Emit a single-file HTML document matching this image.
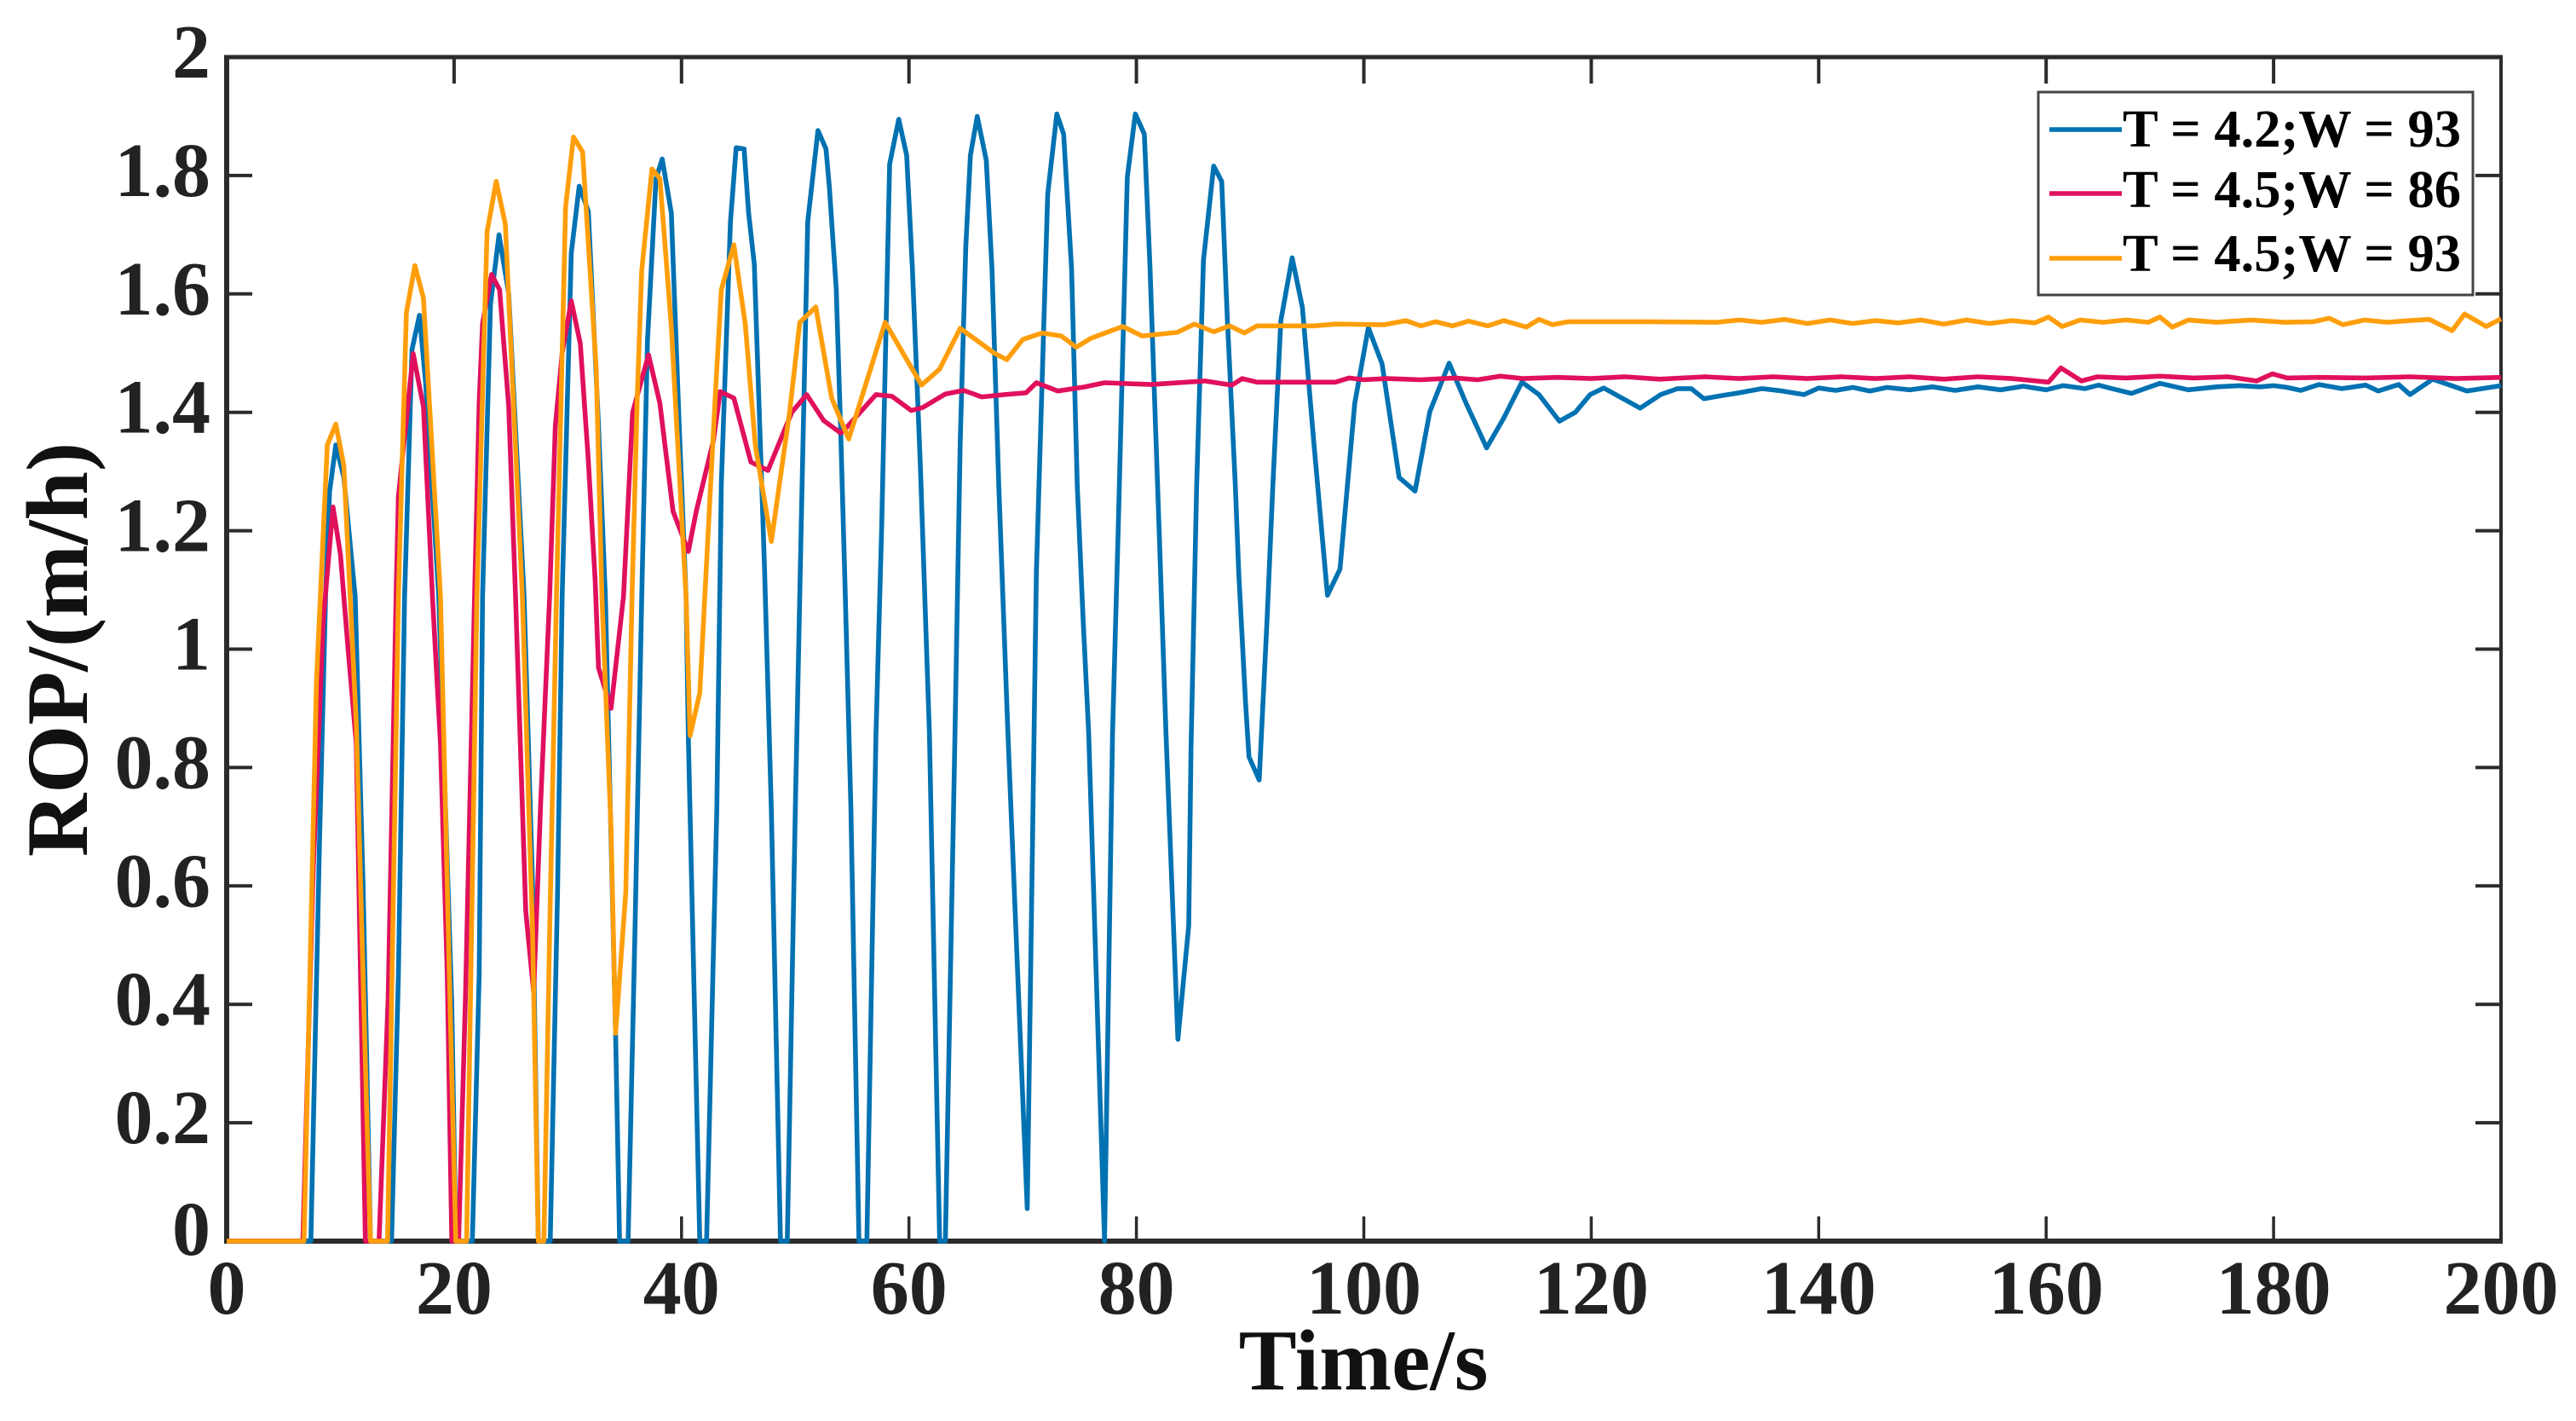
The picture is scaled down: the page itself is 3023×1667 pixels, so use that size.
<!DOCTYPE html>
<html>
<head>
<meta charset="utf-8">
<title>ROP over time</title>
<style>
html,body{margin:0;padding:0;background:#fff;width:3023px;height:1667px;overflow:hidden}
svg{display:block;font-family:"Liberation Serif",serif;font-weight:bold}
</style>
</head>
<body>
<svg id="chart" width="3023" height="1667" viewBox="0 0 3023 1667" xmlns="http://www.w3.org/2000/svg">
  <rect width="3023" height="1667" fill="#fff"/>
  <g id="series"></g>
  <g id="axes"></g>
  <text x="1600" y="1630" font-size="102" text-anchor="middle" fill="#111">Time/s</text>
  <text transform="translate(102 762) rotate(-90)" font-size="103" text-anchor="middle" fill="#111">ROP/(m/h)</text>
  <g>
    <rect x="2392" y="108" width="510" height="238" fill="#fff" stroke="#444" stroke-width="3"/>
    <line x1="2405" x2="2490" y1="152" y2="152" stroke="#0072B2" stroke-width="5.6"/>
    <line x1="2405" x2="2490" y1="227" y2="227" stroke="#E0105C" stroke-width="5.6"/>
    <line x1="2405" x2="2490" y1="303" y2="303" stroke="#FF9E0B" stroke-width="5.6"/>
    <text x="2491" y="172" font-size="62" fill="#000" textLength="397" lengthAdjust="spacingAndGlyphs">T = 4.2;W = 93</text>
    <text x="2491" y="243" font-size="62" fill="#000" textLength="397" lengthAdjust="spacingAndGlyphs">T = 4.5;W = 86</text>
    <text x="2491" y="318" font-size="62" fill="#000" textLength="397" lengthAdjust="spacingAndGlyphs">T = 4.5;W = 93</text>
  </g>
</svg>
<script>
const xTicks = [0,20,40,60,80,100,120,140,160,180,200];
const yTicks = [0,0.2,0.4,0.6,0.8,1,1.2,1.4,1.6,1.8,2];

const blueTime = [0,7.4,8.15,8.7,9.05,9.6,10.3,11.3,12,12.65,14.5,15.1,15.65,16.3,16.95,17.5,18.65,19.8,20.15,21.6,22.2,22.5,23.2,23.95,24.8,26.15,26.9,27.4,28.45,29.1,29.5,30.3,31,31.8,32.7,33.3,34.2,34.55,35.3,35.9,36.5,37,37.75,38.3,39.1,39.8,40.4,40.6,41.6,42.2,43.1,43.5,44.3,44.8,45.5,45.9,46.4,47.3,47.9,48.7,49.3,50,50.5,51.1,52,52.7,53,53.6,54,54.4,54.9,55.6,56.3,57.1,57.6,58.3,59.1,59.8,60.3,61,61.8,62.7,63.2,64.05,64.5,65,65.4,66,66.8,67.3,67.9,68.7,70.4,71.2,72.2,73,73.6,74.3,74.8,75.3,75.8,77.2,77.9,78.4,79.2,79.9,80.7,81.2,82,82.6,83.3,83.65,84.6,84.8,85.3,85.9,86.8,87.5,88,88.7,89,89.6,89.9,90.8,91.5,92,92.7,93.7,94.6,95.6,96.8,97.9,99.2,100.4,101.6,103.1,104.5,105.8,107.5,109,110.8,112.3,113.9,115.4,117.2,118.6,119.9,121.1,124.3,126.1,127.6,128.8,129.9,131.4,133,135,136.8,138.7,140,141.5,143,144.5,146,148,150,152,154,156,158,160,161.5,163.4,164.6,165.8,167.5,170,172.5,175,177,178.8,180,181.2,182.4,184,186,188.1,189.2,191,192,194,197,200];
const blueROP = [0,0,0.665,1.089,1.266,1.345,1.29,1.089,0.6,0,0,0.448,1.089,1.506,1.564,1.45,1.089,0.4,0,0,0.448,1.089,1.583,1.7,1.6,1.089,0.6,0,0,0.59,1.089,1.669,1.782,1.74,1.377,1.089,0.351,0,0,0.52,1.089,1.52,1.794,1.828,1.737,1.377,1.089,0.85,0,0,0.73,1.28,1.722,1.847,1.845,1.737,1.65,1.136,0.728,0,0,0.728,1.185,1.722,1.876,1.845,1.78,1.61,1.367,1.089,0.728,0,0,0.858,1.208,1.819,1.895,1.834,1.643,1.312,0.858,0,0,0.858,1.349,1.68,1.834,1.9,1.826,1.643,1.276,0.858,0.055,1.129,1.768,1.904,1.87,1.643,1.276,1.055,0.858,0,0.858,1.2,1.797,1.904,1.87,1.643,1.2,0.858,0.514,0.341,0.533,0.834,1.276,1.657,1.816,1.79,1.555,1.276,1.129,0.909,0.818,0.779,1.055,1.276,1.555,1.661,1.577,1.349,1.091,1.135,1.415,1.543,1.482,1.29,1.267,1.401,1.483,1.415,1.34,1.39,1.451,1.43,1.385,1.4,1.43,1.441,1.407,1.43,1.44,1.44,1.423,1.428,1.433,1.44,1.436,1.43,1.441,1.437,1.442,1.436,1.442,1.438,1.443,1.437,1.443,1.438,1.444,1.438,1.445,1.44,1.446,1.44,1.432,1.449,1.438,1.443,1.445,1.443,1.445,1.442,1.437,1.447,1.44,1.446,1.436,1.447,1.43,1.456,1.436,1.445,1.443,1.444,1.443];

const redTime = [0,6.7,7.6,8.5,9.35,10,10.6,11.4,12.2,13.4,14.2,14.9,15.1,16.4,17,17.3,18.1,18.8,19.4,19.8,20.4,21,21.8,22.2,22.5,23.3,24,24.8,25.4,26.3,27,27.6,28.4,28.9,29.5,30.3,31.1,31.8,32.4,32.7,33.8,34.9,35.7,37.1,38.1,39.25,40.6,41.3,42.8,43.4,44.6,46.1,47.6,49.7,51,52.5,54,54.4,57.1,58.5,60.2,61.2,63.2,64.8,66.4,68.4,70.3,71.2,73.1,75.5,77.2,81.3,86,88.4,89.3,90.6,97.5,98.7,100,102,105,108,110,112,114,117,120,123,126,130,133,136,139,142,145,148,151,154,157,160.2,161.3,163.1,164.5,167,170,173,176,178.5,179.9,181.2,184,188,192,196,200];
const redROP = [0,0,0.62,1.05,1.24,1.16,1.017,0.84,0,0,0.41,1.089,1.257,1.499,1.439,1.41,1.089,0.84,0.448,0,0,0.41,1.089,1.416,1.55,1.633,1.607,1.41,1.089,0.557,0.42,0.733,1.089,1.377,1.5,1.588,1.516,1.319,1.117,0.968,0.9,1.089,1.4,1.497,1.415,1.233,1.165,1.233,1.352,1.435,1.424,1.316,1.302,1.4,1.43,1.386,1.365,1.372,1.43,1.427,1.403,1.408,1.431,1.437,1.426,1.43,1.433,1.45,1.436,1.443,1.45,1.447,1.453,1.446,1.457,1.451,1.451,1.458,1.455,1.457,1.455,1.458,1.455,1.461,1.457,1.459,1.457,1.46,1.456,1.46,1.457,1.46,1.457,1.46,1.457,1.46,1.456,1.46,1.457,1.451,1.475,1.453,1.46,1.458,1.461,1.458,1.46,1.453,1.465,1.458,1.459,1.458,1.46,1.457,1.459];

const orangeTime = [0,6.8,7.9,8.85,9.6,10.3,11.4,12.3,12.65,14.15,15.1,15.8,16.55,17.3,18.8,19.5,20.15,21.1,22,22.9,23.7,24.5,26,26.9,27.4,27.9,28.4,29,29.8,30.5,31.3,32.5,33,33.8,34.2,35.1,35.65,36.1,36.5,37.4,38.1,39.1,40.4,40.75,41.6,43,43.5,44.6,45.6,46.5,47.9,49.5,50.4,51.8,53.2,54.7,57.9,61.1,62.7,64.5,67.5,68.6,70,71.7,73.4,74.7,76,77.4,78.8,80.5,83.6,85.1,86.8,88.2,89.5,90.6,95.6,97.5,101.8,103.7,105,106.3,107.8,109.2,110.9,112.3,114.3,115.4,116.6,118,125,131,133,135,137,139,141,143,145,147,149,151,153,155,157,159,160.2,161.4,163,165,167,169,170,171.1,172.5,175,178,181,183.5,184.9,186.1,188,190,192,193.7,195.7,196.8,198.7,200];
const orangeROP = [0,0,0.946,1.345,1.38,1.31,0.875,0.233,0,0,1.089,1.568,1.648,1.593,1.089,0.52,0,0,1.089,1.705,1.79,1.718,1.089,0.52,0,0,0.52,1.089,1.746,1.865,1.84,1.473,1.089,0.695,0.351,0.59,1.089,1.424,1.64,1.811,1.795,1.545,1.089,0.854,0.926,1.438,1.607,1.683,1.55,1.343,1.182,1.4,1.552,1.578,1.424,1.355,1.552,1.446,1.473,1.542,1.5,1.489,1.523,1.534,1.529,1.51,1.525,1.535,1.545,1.529,1.535,1.549,1.536,1.546,1.534,1.546,1.546,1.549,1.548,1.555,1.546,1.553,1.546,1.554,1.546,1.555,1.544,1.557,1.548,1.553,1.553,1.552,1.556,1.552,1.557,1.55,1.556,1.55,1.555,1.551,1.556,1.549,1.556,1.55,1.555,1.551,1.561,1.545,1.556,1.552,1.556,1.552,1.561,1.544,1.556,1.552,1.556,1.552,1.553,1.559,1.548,1.556,1.552,1.555,1.557,1.538,1.566,1.545,1.558];

const xScale = t => 266 + t * 13.345;
const yScale = v => 1456 - v * 694.5;
const NS = 'http://www.w3.org/2000/svg';

function drawSeries(times, values, color, name) {
  const path = document.createElementNS(NS, 'path');
  let d = '';
  for (let i = 0; i < times.length; i++) {
    d += (i ? 'L' : 'M') + xScale(times[i]).toFixed(1) + ' ' + yScale(values[i]).toFixed(1);
  }
  path.setAttribute('d', d);
  path.setAttribute('fill', 'none');
  path.setAttribute('stroke', color);
  path.setAttribute('stroke-width', '5.6');
  path.setAttribute('stroke-linejoin', 'round');
  
  
  document.getElementById('series').appendChild(path);
}
drawSeries(blueTime, blueROP, '#0072B2', 'series-t42-w93');
drawSeries(redTime, redROP, '#E0105C', 'series-t45-w86');
drawSeries(orangeTime, orangeROP, '#FF9E0B', 'series-t45-w93');

const axes = document.getElementById('axes');
function addLine(x1, y1, x2, y2, w, name) {
  const l = document.createElementNS(NS, 'line');
  l.setAttribute('x1', x1);
  l.setAttribute('y1', y1);
  l.setAttribute('x2', x2);
  l.setAttribute('y2', y2);
  l.setAttribute('stroke', '#2b2b2b');
  l.setAttribute('stroke-width', w);
  
  
  axes.appendChild(l);
}
function addLabel(x, y, str, anchor, name) {
  const t = document.createElementNS(NS, 'text');
  t.setAttribute('x', x);
  t.setAttribute('y', y);
  t.setAttribute('font-size', '90');
  t.setAttribute('text-anchor', anchor);
  t.setAttribute('fill', '#222');
  t.textContent = str;
  
  
  axes.appendChild(t);
}
const x0 = xScale(0), x1 = xScale(200), y0 = yScale(0), y1 = yScale(2);
xTicks.forEach(t => {
  const x = xScale(t);
  if (t > 0 && t < 200) {
    addLine(x, y1, x, y1 + 31, 4, 'x-tick-top');
    addLine(x, y0, x, y0 - 29, 3.5, 'x-tick-bottom');
  }
  addLabel(x, 1541, String(t), 'middle', 'x-tick-label');
});
yTicks.forEach(v => {
  const y = yScale(v);
  if (v > 0 && v < 2) {
    addLine(x0, y, x0 + 30, y, 4, 'y-tick-left');
    addLine(x1, y, x1 - 30, y, 4, 'y-tick-right');
  }
  addLabel(247, y + (v === 0 ? 16 : 24), String(v), 'end', 'y-tick-label');
});
addLine(x0 - 3, y1, x1 + 2, y1, 5, 'axis-top');
addLine(x1, y1, x1, y0 + 3, 4, 'axis-right');
addLine(x0, y1, x0, y0 + 3, 6, 'axis-left');
const bottomAxis = document.createElementNS(NS, 'line');
bottomAxis.setAttribute('x1', x0);
bottomAxis.setAttribute('y1', y0);
bottomAxis.setAttribute('x2', x1 + 2);
bottomAxis.setAttribute('y2', y0);
bottomAxis.setAttribute('stroke', '#2b2b2b');
bottomAxis.setAttribute('stroke-width', '6');


axes.insertBefore(bottomAxis, axes.firstChild);
// keep series above the bottom axis, as in the reference
const svg = document.getElementById('chart');
svg.insertBefore(axes, document.getElementById('series'));
</script>
</body>
</html>
